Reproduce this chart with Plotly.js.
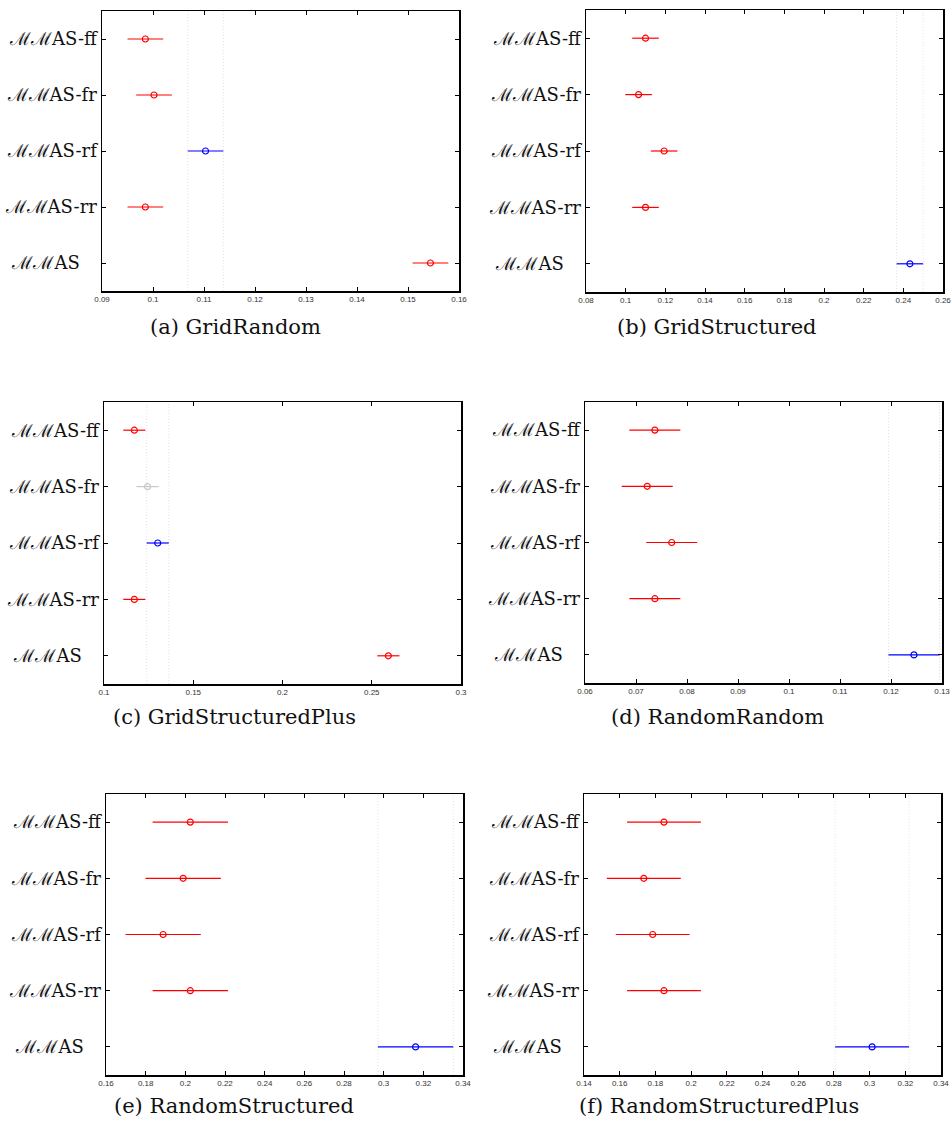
<!DOCTYPE html>
<html>
<head>
<meta charset="utf-8">
<script src="https://cdn.plot.ly/plotly-3.0.1.min.js"></script>
<style>html,body{margin:0;padding:0;background:#fff;}#chart{width:952px;height:1127px;}</style>
</head>
<body>
<div id="chart"></div>
<script>
// ---- Data ----
const groupLabels = ["ℳℳAS-ff", "ℳℳAS-fr", "ℳℳAS-rf", "ℳℳAS-rr", "ℳℳAS"];
const panelCaptions = ["(a) GridRandom", "(b) GridStructured", "(c) GridStructuredPlus",
                       "(d) RandomRandom", "(e) RandomStructured", "(f) RandomStructuredPlus"];

// group means (order: ff, fr, rf, rr, MMAS)
const meansA = [0.0985, 0.1002, 0.1103, 0.0985, 0.1544];
const meansB = [0.1100, 0.1065, 0.1194, 0.1100, 0.2433];
const meansC = [0.1170, 0.1244, 0.1301, 0.1170, 0.2593];
const meansD = [0.0737, 0.0722, 0.0770, 0.0737, 0.1245];
const meansE = [0.2025, 0.1989, 0.1888, 0.2025, 0.3161];
const meansF = [0.1848, 0.1735, 0.1785, 0.1848, 0.3014];

// comparison interval half-widths
const halfA = [0.0035, 0.0035, 0.0035, 0.0035, 0.0035];
const halfB = [0.0067, 0.0067, 0.0067, 0.0067, 0.0067];
const halfC = [0.0062, 0.0062, 0.0062, 0.0062, 0.0062];
const halfD = [0.0050, 0.0050, 0.0050, 0.0050, 0.0050];
const halfE = [0.0190, 0.0190, 0.0190, 0.0190, 0.0190];
const halfF = [0.0207, 0.0207, 0.0207, 0.0207, 0.0207];

// status: "sel" = selected group, "sig" = significantly different, "ns" = not significant
const statusA = ["sig", "sig", "sel", "sig", "sig"];
const statusB = ["sig", "sig", "sig", "sig", "sel"];
const statusC = ["sig", "ns", "sel", "sig", "sig"];
const statusD = ["sig", "sig", "sig", "sig", "sel"];
const statusE = ["sig", "sig", "sig", "sig", "sel"];
const statusF = ["sig", "sig", "sig", "sig", "sel"];

// x-axis ranges and tick steps
const xRanges = [[0.09, 0.16], [0.08, 0.26], [0.1, 0.3], [0.06, 0.13], [0.16, 0.34], [0.14, 0.34]];
const xDtick  = [0.01, 0.02, 0.05, 0.01, 0.02, 0.02];

// ---- Styling / layout ----
const W = 952, H = 1127;
const colorOf = {sel: "#0000ff", sig: "#ff0000", ns: "#c8c8c8"};
// plot-area pixel boxes [x0, x1, y0(top), y1(bottom)]
const boxes = [
  [102, 459, 11, 291], [586, 943, 10, 292],
  [104, 461, 402, 684], [585, 942, 402, 683],
  [106, 463, 794, 1075], [584, 941, 794, 1075]
];
const captionPos = [[235, 327], [717, 327], [234, 717], [717, 717], [234, 1106], [719, 1106]];

const means = [meansA, meansB, meansC, meansD, meansE, meansF];
const halves = [halfA, halfB, halfC, halfD, halfE, halfF];
const statuses = [statusA, statusB, statusC, statusD, statusE, statusF];

// y positions: first label on top
const yPos = groupLabels.map((_, i) => groupLabels.length - i);
const tickText = groupLabels.map(l => l === "ℳℳAS" ? l + "\u00a0\u00a0\u00a0" : l);

const traces = [];
const shapes = [];
const annotations = [];
const layout = {
  width: W, height: H,
  margin: {l: 0, r: 0, t: 0, b: 0},
  paper_bgcolor: "#ffffff", plot_bgcolor: "#ffffff",
  showlegend: false,
  font: {family: "Liberation Sans, Arial, sans-serif", color: "#000"}
};

for (let p = 0; p < 6; p++) {
  const ax = p === 0 ? "" : String(p + 1);
  const xa = "x" + ax, ya = "y" + ax;
  const b = boxes[p];
  layout["xaxis" + ax] = {
    domain: [b[0] / W, b[1] / W],
    anchor: ya,
    range: xRanges[p],
    dtick: xDtick[p], tick0: 0,
    showgrid: false, zeroline: false,
    showline: true, linecolor: "#000", linewidth: 1.5, mirror: "allticks",
    ticks: "inside", ticklen: 4, tickcolor: "#000", tickwidth: 1,
    tickfont: {family: "Liberation Sans, Arial, sans-serif", size: 8, color: "#333"},
    fixedrange: true
  };
  layout["yaxis" + ax] = {
    domain: [1 - b[3] / H, 1 - b[2] / H],
    anchor: xa,
    range: [0.5, groupLabels.length + 0.5],
    tickmode: "array", tickvals: yPos, ticktext: tickText,
    showgrid: false, zeroline: false,
    showline: true, linecolor: "#000", linewidth: 1.5, mirror: "allticks",
    ticks: "inside", ticklen: 4, tickcolor: "#000", tickwidth: 1,
    tickfont: {family: "DejaVu Serif, serif", size: 18, color: "#111"},
    ticklabelstandoff: 0,
    fixedrange: true
  };

  const m = means[p], h = halves[p], s = statuses[p];
  let selIdx = s.indexOf("sel");
  for (let i = 0; i < m.length; i++) {
    const c = colorOf[s[i]];
    traces.push({
      type: "scatter", mode: "markers",
      xaxis: xa, yaxis: ya,
      x: [m[i]], y: [yPos[i]],
      marker: {symbol: "circle-open", size: 6, color: c, line: {width: 1.2, color: c}},
      error_x: {type: "data", array: [h[i]], symmetric: true, color: c, thickness: 1.2, width: 0},
      hoverinfo: "skip", cliponaxis: true
    });
  }
  // dotted reference lines at the selected group's interval bounds
  if (selIdx >= 0) {
    [m[selIdx] - h[selIdx], m[selIdx] + h[selIdx]].forEach(v => {
      shapes.push({
        type: "line", xref: xa, yref: ya + " domain",
        x0: v, x1: v, y0: 0, y1: 1,
        line: {color: "#e2e2e2", width: 1, dash: "1px,2px"},
        layer: "below"
      });
    });
  }
  annotations.push({
    xref: "paper", yref: "paper",
    x: captionPos[p][0] / W, y: 1 - captionPos[p][1] / H,
    xanchor: "center", yanchor: "middle",
    text: panelCaptions[p], showarrow: false,
    font: {family: "DejaVu Serif, serif", size: 21, color: "#111"}
  });
}
layout.shapes = shapes;
layout.annotations = annotations;

Plotly.newPlot("chart", traces, layout, {staticPlot: true, displayModeBar: false});
</script>
</body>
</html>
